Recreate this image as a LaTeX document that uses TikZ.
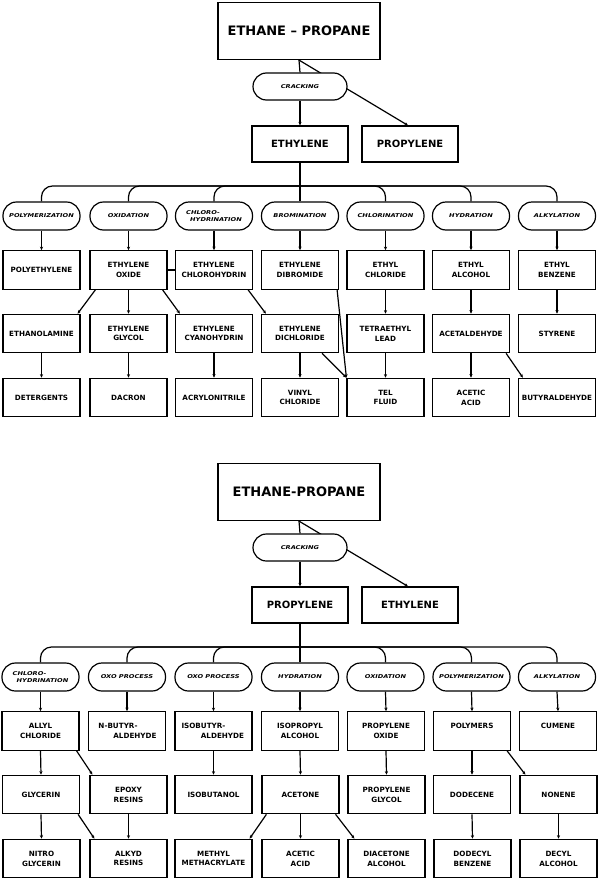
\documentclass[tikz,border=0pt]{standalone}
\usepackage{fontspec}
\setmainfont{DejaVu Sans}
\newfontfamily\pillfont{DejaVu Sans}[FakeStretch=1.25]
\usetikzlibrary{arrows.meta,calc}
\pgfdeclarelayer{bg}
\pgfsetlayers{bg,main}
\tikzset{
  base/.style={draw, line width=1.2pt, fill=white, inner sep=1pt, align=center},
  prod/.style={base, minimum width=77pt, minimum height=38.5pt, font=\fontsize{7.2}{9.8}\selectfont\bfseries},
  proc/.style={base, rounded corners=13.5pt, minimum width=77pt, minimum height=28pt, font=\pillfont\fontsize{5.3}{6.6}\selectfont\bfseries\itshape},
  feed/.style={base, minimum width=162pt, minimum height=57pt, font=\fontsize{13}{15}\selectfont\bfseries},
  olef/.style={base, minimum width=96pt, minimum height=36pt, font=\fontsize{10}{12}\selectfont\bfseries},
  conn/.style={line width=1.2pt},
  arr/.style={conn, -{Stealth[length=3.5pt,width=3.2pt]}},
  bus/.style={conn, rounded corners=11pt},
}
\begin{document}
\begin{tikzpicture}[x=1pt,y=-1pt]
\useasboundingbox (0,0) rectangle (600,881);
% ================= TOP SECTION =================
\node[feed] (EP1) at (299,31) {ETHANE – PROPANE};
\node[proc, minimum width=94pt, minimum height=27pt] (CR1) at (300,86.5) {CRACKING};
\node[olef] (ETH1) at (300,144) {ETHYLENE};
\node[olef] (PRO1) at (410,144) {PROPYLENE};
\coordinate (BUS1) at (300,186);
% processes
\node[proc] (a1) at (41.5,216) {POLYMERIZATION};
\node[proc] (a2) at (128.5,216) {OXIDATION};
\node[proc, align=left] (a3) at (214,216) {CHLORO-\\\hspace*{4pt}HYDRINATION};
\node[proc] (a4) at (300,216) {BROMINATION};
\node[proc] (a5) at (385.5,216) {CHLORINATION};
\node[proc] (a6) at (471,216) {HYDRATION};
\node[proc] (a7) at (557,216) {ALKYLATION};
% row 1
\node[prod] (b1) at (41.5,270) {POLYETHYLENE};
\node[prod] (b2) at (128.5,270) {ETHYLENE\\OXIDE};
\node[prod] (b3) at (214,270) {ETHYLENE\\CHLOROHYDRIN};
\node[prod] (b4) at (300,270) {ETHYLENE\\DIBROMIDE};
\node[prod] (b5) at (385.5,270) {ETHYL\\CHLORIDE};
\node[prod] (b6) at (471,270) {ETHYL\\ALCOHOL};
\node[prod] (b7) at (557,270) {ETHYL\\BENZENE};
% row 2
\node[prod] (c1) at (41.5,333.5) {ETHANOLAMINE};
\node[prod] (c2) at (128.5,333.5) {ETHYLENE\\GLYCOL};
\node[prod] (c3) at (214,333.5) {ETHYLENE\\CYANOHYDRIN};
\node[prod] (c4) at (300,333.5) {ETHYLENE\\DICHLORIDE};
\node[prod] (c5) at (385.5,333.5) {TETRAETHYL\\LEAD};
\node[prod] (c6) at (471,333.5) {ACETALDEHYDE};
\node[prod] (c7) at (557,333.5) {STYRENE};
% row 3
\node[prod] (d1) at (41.5,397.5) {DETERGENTS};
\node[prod] (d2) at (128.5,397.5) {DACRON};
\node[prod] (d3) at (214,397.5) {ACRYLONITRILE};
\node[prod] (d4) at (300,397.5) {VINYL\\CHLORIDE};
\node[prod] (d5) at (385.5,397.5) {TEL\\FLUID};
\node[prod] (d6) at (471,397.5) {ACETIC\\ACID};
\node[prod] (d7) at (557,397.5) {BUTYRALDEHYDE};

% ================= BOTTOM SECTION =================
\node[feed] (EP2) at (299,492) {ETHANE-PROPANE};
\node[proc, minimum width=94pt, minimum height=27pt] (CR2) at (300,547.5) {CRACKING};
\node[olef] (PRO2) at (300,605) {PROPYLENE};
\node[olef] (ETH2) at (410,605) {ETHYLENE};
\coordinate (BUS2) at (300,647);
% processes
\node[proc, align=left] (e1) at (40.5,677) {CHLORO-\\\hspace*{4pt}HYDRINATION};
\node[proc] (e2) at (127,677) {OXO PROCESS};
\node[proc] (e3) at (213.5,677) {OXO PROCESS};
\node[proc] (e4) at (300,677) {HYDRATION};
\node[proc] (e5) at (385.5,677) {OXIDATION};
\node[proc] (e6) at (471.5,677) {POLYMERIZATION};
\node[proc] (e7) at (557,677) {ALKYLATION};
% row 1
\node[prod] (f1) at (40.5,731) {ALLYL\\CHLORIDE};
\node[prod] (f2) at (127,731) {N-BUTYR-\hspace*{18pt}\\\hspace*{16pt}ALDEHYDE};
\node[prod] (f3) at (213.5,731) {ISOBUTYR-\hspace*{20pt}\\\hspace*{18pt}ALDEHYDE};
\node[prod] (f4) at (300,731) {ISOPROPYL\\ALCOHOL};
\node[prod] (f5) at (386,731) {PROPYLENE\\OXIDE};
\node[prod] (f6) at (472,731) {POLYMERS\\\phantom{X}};
\node[prod] (f7) at (558,731) {CUMENE\\\phantom{X}};
% row 2
\node[prod] (g1) at (41,794.5) {GLYCERIN};
\node[prod] (g2) at (128.5,794.5) {EPOXY\\RESINS};
\node[prod] (g3) at (213.5,794.5) {ISOBUTANOL};
\node[prod] (g4) at (300.5,794.5) {ACETONE};
\node[prod] (g5) at (386.5,794.5) {PROPYLENE\\GLYCOL};
\node[prod] (g6) at (472,794.5) {DODECENE};
\node[prod] (g7) at (558.5,794.5) {NONENE};
% row 3
\node[prod] (h1) at (41.5,858.5) {NITRO\\GLYCERIN};
\node[prod] (h2) at (128.5,858.5) {ALKYD\\RESINS};
\node[prod] (h3) at (213.5,858.5) {METHYL\\METHACRYLATE};
\node[prod] (h4) at (300.5,858.5) {ACETIC\\ACID};
\node[prod] (h5) at (386.5,858.5) {DIACETONE\\ALCOHOL};
\node[prod] (h6) at (472.5,858.5) {DODECYL\\BENZENE};
\node[prod] (h7) at (558.5,858.5) {DECYL\\ALCOHOL};

\begin{pgfonlayer}{bg}
% ---- top connectors
\draw[conn] (EP1.south) -- (CR1.north);
\draw[arr] (CR1.south) -- (ETH1.north);
\draw[arr] (EP1.south) -- ($(PRO1.north)+(-2,0)$);
\draw[conn] (ETH1.south) -- (a4.north);
\draw[bus] (a1.north) |- (a7.north |- BUS1) -- (a7.north);
\foreach \n in {a2,a3,a5,a6} \draw[bus] (\n.north) |- (BUS1);
\foreach \i in {1,...,7} \draw[arr] (a\i.south) -- (b\i.north);
\draw[conn] (b2.east) -- (b3.west);
\draw[arr] ($(b2.south west)+(6,0)$) -- ($(c1.north east)+(-3,0)$);
\draw[arr] (b2.south) -- (c2.north);
\draw[arr] ($(b2.south east)+(-5,0)$) -- ($(c3.north west)+(5,0)$);
\draw[arr] ($(b3.south east)+(-5,0)$) -- ($(c4.north west)+(5,0)$);
\draw[arr] ($(b4.south east)+(-2,0)$) -- (d5.north west);
\draw[arr] ($(c4.south east)+(-17,0)$) -- (d5.north west);
\draw[arr] (b5.south) -- (c5.north);
\draw[arr] (c5.south) -- (d5.north);
\draw[arr] (b6.south) -- (c6.north);
\draw[arr] (c6.south) -- (d6.north);
\draw[arr] ($(c6.south east)+(-4,0)$) -- ($(d7.north west)+(5,0)$);
\draw[arr] (b7.south) -- (c7.north);
\draw[arr] (c1.south) -- (d1.north);
\draw[arr] (c2.south) -- (d2.north);
\draw[arr] (c3.south) -- (d3.north);
\draw[arr] (c4.south) -- (d4.north);
% ---- bottom connectors
\draw[conn] (EP2.south) -- (CR2.north);
\draw[arr] (CR2.south) -- (PRO2.north);
\draw[arr] (EP2.south) -- ($(ETH2.north)+(-2,0)$);
\draw[conn] (PRO2.south) -- (e4.north);
\draw[bus] (e1.north) |- (e7.north |- BUS2) -- (e7.north);
\foreach \n in {e2,e3,e5,e6} \draw[bus] (\n.north) |- (BUS2);
\foreach \i in {1,...,7} \draw[arr] (e\i.south) -- (f\i.north);
\draw[arr] (f1.south) -- (g1.north);
\draw[arr] ($(f1.south east)+(-3,0)$) -- ($(g2.north west)+(3,0)$);
\draw[arr] (f3.south) -- (g3.north);
\draw[arr] (f4.south) -- (g4.north);
\draw[arr] (f5.south) -- (g5.north);
\draw[arr] (f6.south) -- (g6.north);
\draw[arr] ($(f6.south east)+(-4,0)$) -- ($(g7.north west)+(6,0)$);
\draw[arr] (g1.south) -- (h1.north);
\draw[arr] ($(g1.south east)+(-2,0)$) -- ($(h2.north west)+(5,0)$);
\draw[arr] (g2.south) -- (h2.north);
\draw[arr] ($(g4.south west)+(5,0)$) -- ($(h3.north east)+(-3,0)$);
\draw[arr] (g4.south) -- (h4.north);
\draw[arr] ($(g4.south east)+(-4,0)$) -- ($(h5.north west)+(7,0)$);
\draw[arr] (g6.south) -- (h6.north);
\draw[arr] (g7.south) -- (h7.north);
\end{pgfonlayer}
\end{tikzpicture}
\end{document}
